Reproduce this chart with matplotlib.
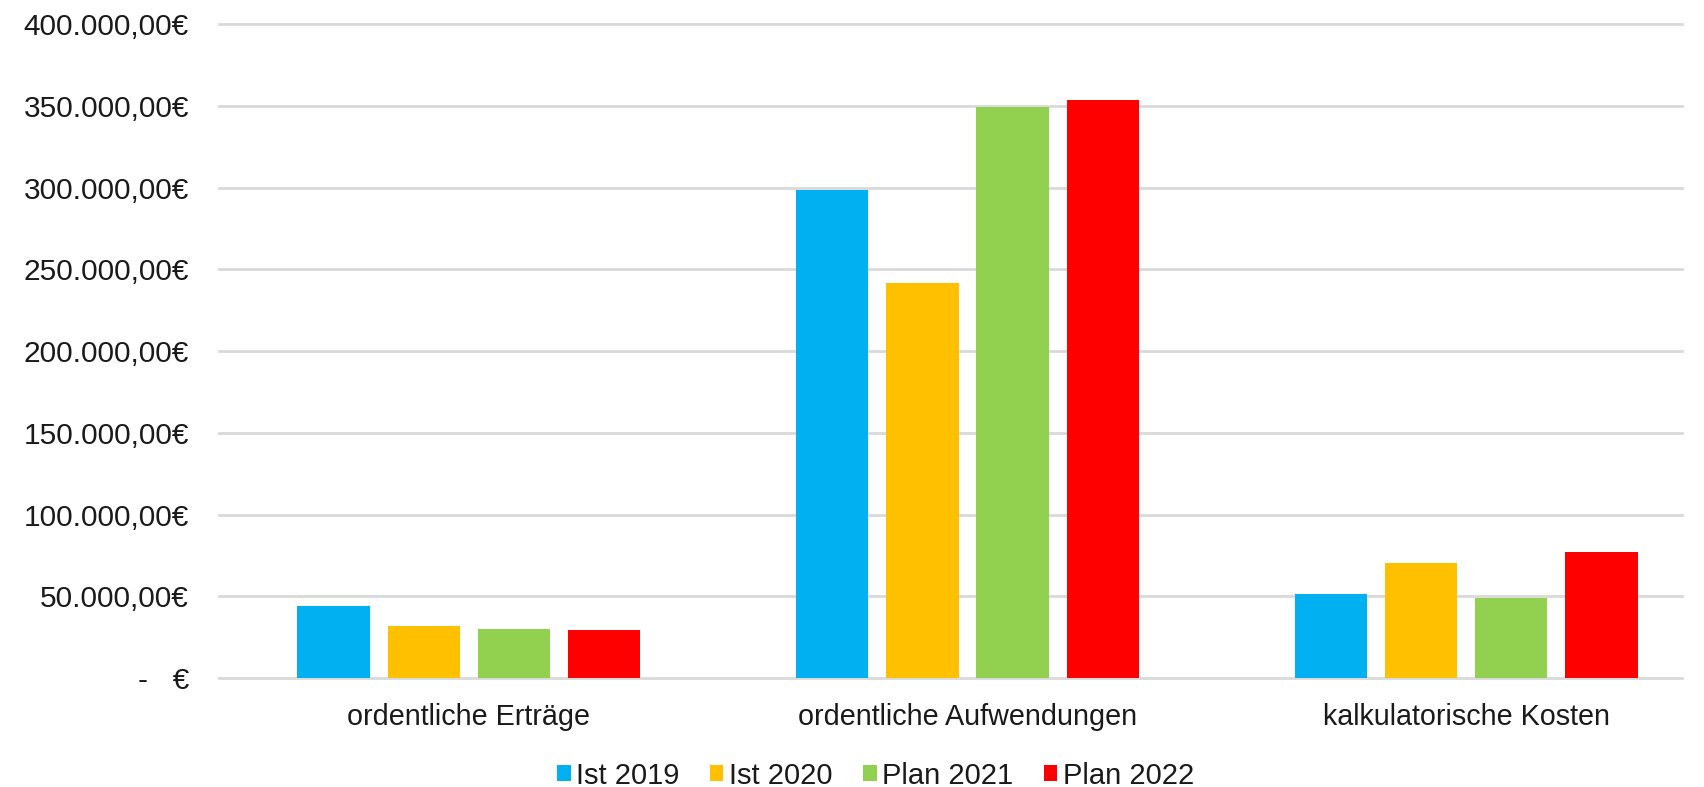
import matplotlib
matplotlib.use("Agg")
import matplotlib.pyplot as plt
import numpy as np
from matplotlib.ticker import FuncFormatter, MultipleLocator

categories = ["ordentliche Erträge", "ordentliche Aufwendungen", "kalkulatorische Kosten"]
series_names = ["Ist 2019", "Ist 2020", "Plan 2021", "Plan 2022"]
ist_2019 = [44200, 298200, 51600]
ist_2020 = [31800, 241400, 70400]
plan_2021 = [30100, 349500, 49000]
plan_2022 = [29100, 353400, 76800]
colors = ["#00B0F0", "#FFC000", "#92D050", "#FF0000"]

plt.rcParams['font.family'] = ['Liberation Sans', 'DejaVu Sans']

fig = plt.figure(figsize=(17.04, 7.87), dpi=100)
ax = fig.add_axes([0.1288, 0.1385, 0.987 - 0.1288, 0.9695 - 0.1385])

x = np.arange(len(categories))
width = 0.145
step = 0.181
all_series = [ist_2019, ist_2020, plan_2021, plan_2022]
for i, (vals, name, c) in enumerate(zip(all_series, series_names, colors)):
    ax.bar(x + (i - 1.5) * step, vals, width, color=c, label=name, zorder=3)

ax.set_ylim(0, 400000)
ax.set_xlim(-0.5, 2.5 - 31 / 459)
ax.yaxis.set_major_locator(MultipleLocator(50000))

def fmt(v, pos):
    if abs(v) < 1e-6:
        return "-   €"
    s = f"{v:,.2f}".replace(",", "X").replace(".", ",").replace("X", ".")
    return s + "€"

ax.yaxis.set_major_formatter(FuncFormatter(fmt))
ax.grid(axis="y", color="#d9d9d9", linewidth=2, zorder=0)
ax.set_axisbelow(True)
for line in ax.get_ygridlines():
    line.set_clip_on(False)
for s in ax.spines.values():
    s.set_visible(False)
ax.tick_params(axis="y", length=0, pad=22, labelsize=21.5, labelcolor="#1a1a1a")
ax.tick_params(axis="x", length=0, pad=18, labelsize=20.7, labelcolor="#1a1a1a")
ax.set_xticks(x)
ax.set_xticklabels(categories)

leg = fig.legend(loc="center", bbox_to_anchor=(0.514, 0.0145), ncol=4, frameon=False,
                 fontsize=21, handlelength=0.45, handleheight=0.45,
                 handletextpad=0.2, columnspacing=1.05, borderaxespad=0)
for t in leg.get_texts():
    t.set_color("#1a1a1a")

fig.savefig("out.png", dpi=100, facecolor="white")
